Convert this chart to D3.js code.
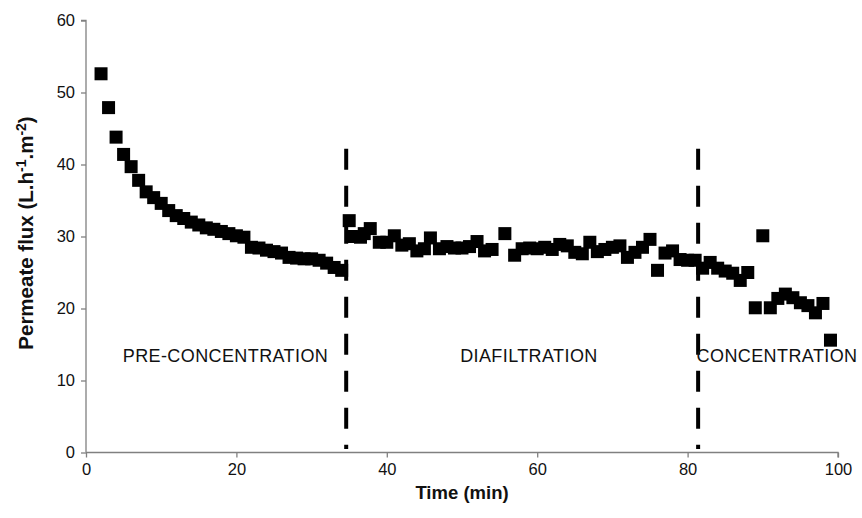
<!DOCTYPE html>
<html>
<head>
<meta charset="utf-8">
<script src="https://cdn.jsdelivr.net/npm/d3@7"></script>
<style>
  html, body { margin: 0; padding: 0; background: #fff; }
  svg { display: block; font-family: "Liberation Sans", Arial, Helvetica, sans-serif; }
</style>
</head>
<body>
<svg id="chart" width="862" height="518"></svg>
<script>
// ---- data ----
const timeMin = [2,3,4,5,6,7,8,9,10,11,12,13,14,15,16,17,18,19,20,21,22,23,24,25,26,27,28,29,30,31,32,33,34,
  35,35.3,36.5,37,37.8,39,40,41,42,43,44,45,45.8,47,48,49,50,51,52,53,54,55.7,57,58,59,60,61,62,63,64,65,66,67,68,69,70,71,72,73,74,75,76,77,78,79,80,81,82,83,84,85,86,87,88,89,90,91,92,93,94,95,96,97,98,99];
const permeateFlux = [52.6,47.9,43.8,41.4,39.7,37.8,36.2,35.4,34.6,33.6,32.9,32.5,32.0,31.6,31.2,31.0,30.7,30.4,30.1,29.9,28.5,28.4,28.1,27.9,27.7,27.1,27.0,26.9,26.9,26.7,26.3,25.7,25.3,
  32.2,30.0,29.9,30.4,31.1,29.2,29.2,30.1,28.8,29.0,28.0,28.3,29.8,28.3,28.6,28.4,28.4,28.6,29.3,28.0,28.2,30.4,27.4,28.3,28.4,28.3,28.5,28.2,28.9,28.7,27.8,27.6,29.2,27.9,28.2,28.5,28.7,27.1,27.8,28.5,29.6,25.3,27.7,28.0,26.8,26.7,26.7,25.6,26.4,25.6,25.2,24.9,23.9,25.0,20.1,30.1,20.1,21.4,22.0,21.5,20.8,20.4,19.4,20.7,15.6];
const phaseBoundaries = [34.6, 81.4];
const phaseLabels = ["PRE-CONCENTRATION", "DIAFILTRATION", "CONCENTRATION"];
const phaseLabelX = [18.55, 58.9, 81.2];
const xTicks = [0, 20, 40, 60, 80, 100];
const yTicks = [0, 10, 20, 30, 40, 50, 60];

// ---- layout ----
const svg = d3.select("#chart");
const x = d3.scaleLinear().domain([0, 100]).range([86, 838]);
const y = d3.scaleLinear().domain([0, 60]).range([452.5, 20.5]);
const axisColor = "#808080";
const textColor = "#111";

// y axis
const yAxis = svg.append("g").attr("transform", `translate(${x(0)},0)`)
  .call(d3.axisLeft(y).tickValues(yTicks).tickSize(5).tickPadding(6).tickFormat(d3.format("d")));
// x axis
const xAxis = svg.append("g").attr("transform", `translate(0,${y(0)})`)
  .call(d3.axisBottom(x).tickValues(xTicks).tickSize(5).tickPadding(6).tickFormat(d3.format("d")));
[yAxis, xAxis].forEach(g => {
  g.select(".domain").attr("stroke", axisColor).attr("stroke-width", 1.3);
  g.selectAll(".tick line").attr("stroke", axisColor).attr("stroke-width", 1.3);
  g.selectAll(".tick text").attr("fill", textColor).style("font-size", "16.5px")
    .style("font-family", "'Liberation Sans', Arial, sans-serif");
});
yAxis.select(".domain").attr("d", `M-5,${y(60)}H0V${y(0)}`);
xAxis.select(".domain").attr("d", `M${x(0)},0H${x(100)}V5`);

// phase dashed lines
svg.append("g").selectAll("line").data(phaseBoundaries).join("line")
  .attr("x1", d => x(d)).attr("x2", d => x(d))
  .attr("y1", y(42.2)).attr("y2", y(0.5))
  .attr("stroke", "#000").attr("stroke-width", 4)
  .attr("stroke-dasharray", "21,16");

// phase labels
svg.append("g").selectAll("text").data(phaseLabels).join("text")
  .attr("x", (d, i) => x(phaseLabelX[i]))
  .attr("y", 362)
  .attr("text-anchor", (d, i) => i === 2 ? "start" : "middle")
  .attr("fill", textColor)
  .style("font-size", "18px")
  .style("letter-spacing", "0.4px")
  .text(d => d);

// data squares
const s = 13;
svg.append("g").selectAll("rect").data(timeMin).join("rect")
  .attr("x", (d) => x(d) - s / 2)
  .attr("y", (d, i) => y(permeateFlux[i]) - s / 2)
  .attr("width", s).attr("height", s)
  .attr("fill", "#000");

// axis titles
svg.append("text")
  .attr("x", 462).attr("y", 499)
  .attr("text-anchor", "middle")
  .attr("fill", textColor)
  .style("font-size", "18.5px").style("font-weight", "bold")
  .text("Time (min)");

const yt = svg.append("text")
  .attr("transform", "translate(33,233) rotate(-90)")
  .attr("text-anchor", "middle")
  .attr("fill", textColor)
  .style("font-size", "20.5px").style("font-weight", "bold");
yt.append("tspan").text("Permeate flux (L.h");
yt.append("tspan").attr("dy", -7).style("font-size", "14px").text("-1");
yt.append("tspan").attr("dy", 7).text(".m");
yt.append("tspan").attr("dy", -7).style("font-size", "14px").text("-2");
yt.append("tspan").attr("dy", 7).text(")");
</script>
</body>
</html>
